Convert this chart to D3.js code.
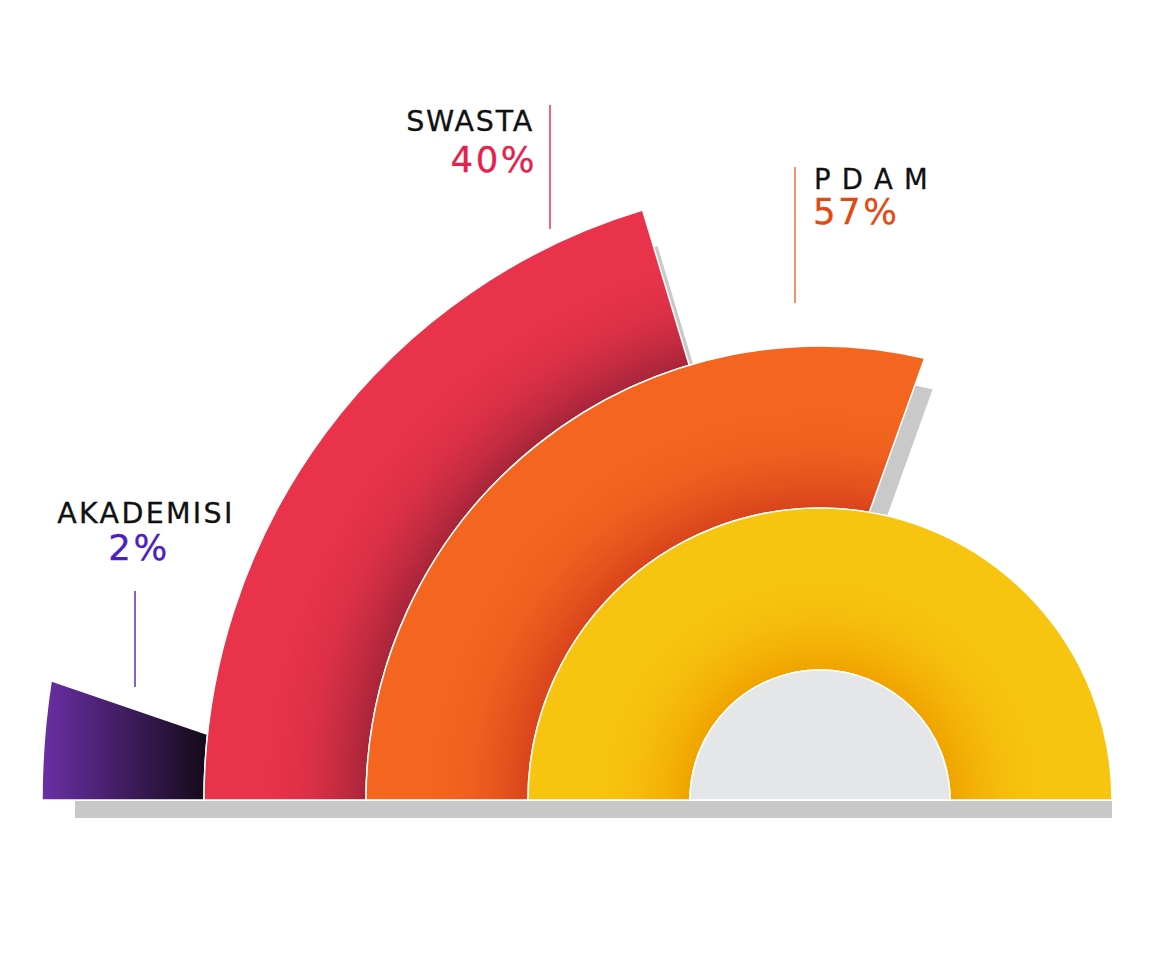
<!DOCTYPE html>
<html>
<head>
<meta charset="utf-8">
<script src="https://cdn.jsdelivr.net/npm/d3@7"></script>
<style>
  html, body { margin: 0; padding: 0; background: #fff; }
  svg { display: block; }
</style>
</head>
<body>
<svg id="chart" width="1150" height="967"></svg>
<script>
// ---- data (outermost ring first) ----
const categories = ["AKADEMISI", "SWASTA", "P D A M", ""];
const values = [2, 40, 57, null];                 // printed percentages
const sweepOuter = [4.9, 40.7, 57.4, 100];        // arc extent at outer edge, % of half circle
const sweepInner = [3.4, 40.7, 55.4, 100];        // arc extent at inner edge, % of half circle
const colors = ["#6b2fa6", "#e8334a", "#f4661f", "#f7c50f"];
const darkColors = ["#160b1c", "#a8253a", "#d9441c", "#f0a300"];
const valueColors = ["#4a20c0", "#e5214d", "#e04a12", null];
const lineColors = ["#5b2cb0", "#e8334a", "#f26a3a", null];

const svg = d3.select("#chart");
const cx = 820, cy = 800;

const rScale = d3.scaleLinear().domain([0, categories.length]).range([778, 130]);
const angle = d3.scaleLinear().domain([0, 100]).range([Math.PI, 2 * Math.PI]);

function ringPath(ro, ri, so, si) {
  const p = d3.path();
  p.moveTo(cx - ro, cy);
  p.arc(cx, cy, ro, Math.PI, angle(so), false);
  p.lineTo(cx + ri * Math.cos(angle(si)), cy + ri * Math.sin(angle(si)));
  p.arc(cx, cy, ri, angle(si), Math.PI, true);
  p.closePath();
  return p.toString();
}

const defs = svg.append("defs");
defs.append("clipPath").attr("id", "above")
  .append("rect").attr("x", 0).attr("y", 0).attr("width", 1150).attr("height", cy);

categories.forEach((c, i) => {
  const ro = rScale(i), ri = rScale(i + 1);
  if (i === 0) {
    const g = defs.append("linearGradient").attr("id", "grad" + i)
      .attr("gradientUnits", "userSpaceOnUse")
      .attr("x1", cx - ro).attr("y1", 0).attr("x2", cx - ri).attr("y2", 0);
    g.append("stop").attr("offset", 0).attr("stop-color", colors[i]);
    g.append("stop").attr("offset", 1).attr("stop-color", darkColors[i]);
  } else {
    const f = ri / ro, w = 1 - f;
    const g = defs.append("radialGradient").attr("id", "grad" + i)
      .attr("gradientUnits", "userSpaceOnUse")
      .attr("cx", cx).attr("cy", cy).attr("r", ro);
    const mid = d3.interpolateRgb(darkColors[i], colors[i]);
    g.append("stop").attr("offset", f).attr("stop-color", darkColors[i]);
    g.append("stop").attr("offset", f + 0.15 * w).attr("stop-color", mid(0.4));
    g.append("stop").attr("offset", f + 0.35 * w).attr("stop-color", mid(0.8));
    g.append("stop").attr("offset", f + 0.6 * w).attr("stop-color", colors[i]);
    g.append("stop").attr("offset", 1).attr("stop-color", colors[i]);
  }
});

// bottom shadow strip
svg.append("rect")
  .attr("x", 75).attr("y", cy + 1).attr("width", 1112 - 75).attr("height", 17)
  .attr("fill", "#c8c8c8");

// end-cut shadows
const shadowOffsets = [null, [15, 36], [8, 31], null];
const shadowG = svg.append("g").attr("clip-path", "url(#above)");
categories.forEach((c, i) => {
  if (!shadowOffsets[i]) return;
  shadowG.append("path")
    .attr("d", ringPath(rScale(i), rScale(i + 1), sweepOuter[i], sweepInner[i]))
    .attr("transform", `translate(${shadowOffsets[i][0]},${shadowOffsets[i][1]})`)
    .attr("fill", "#c9c9c9");
});

// rings
svg.append("g").selectAll("path")
  .data(categories)
  .join("path")
  .attr("d", (c, i) => ringPath(rScale(i), rScale(i + 1), sweepOuter[i], sweepInner[i]))
  .attr("fill", (c, i) => `url(#grad${i})`)
  .attr("stroke", "#fff")
  .attr("stroke-width", 1.5)
  .attr("stroke-linejoin", "miter");

// center disc
svg.append("path")
  .attr("d", d3.arc()({ innerRadius: 0, outerRadius: rScale(categories.length), startAngle: -Math.PI / 2, endAngle: Math.PI / 2 }))
  .attr("transform", `translate(${cx},${cy})`)
  .attr("fill", "#e5e6e8")
  .attr("stroke", "#fff")
  .attr("stroke-width", 1.5);

// labels
const labelPos = [
  { nx: 146, ny: 523, vx: 139, vy: 560, anchor: "middle", lx: 135, ly1: 591, ly2: 687, ls: 2.3, nfs: 28.5 },
  { nx: 534, ny: 131, vx: 537, vy: 172, anchor: "end", lx: 550, ly1: 105, ly2: 229, ls: 1.8, nfs: 28.5 },
  { nx: 814, ny: 189, vx: 813, vy: 224, anchor: "start", lx: 795, ly1: 167, ly2: 303, ls: 1.2, nfs: 27.5 }
];
const lab = svg.append("g").attr("font-family", "'DejaVu Sans', Verdana, sans-serif");
labelPos.forEach((p, i) => {
  lab.append("line")
    .attr("x1", p.lx).attr("x2", p.lx).attr("y1", p.ly1).attr("y2", p.ly2)
    .attr("stroke", lineColors[i]).attr("stroke-width", 1.5);
  lab.append("text")
    .attr("x", p.nx).attr("y", p.ny)
    .attr("text-anchor", p.anchor)
    .attr("font-size", p.nfs)
    .attr("letter-spacing", p.ls)
    .attr("fill", "#111")
    .attr("stroke", "#111").attr("stroke-width", 0.3)
    .text(categories[i]);
  lab.append("text")
    .attr("x", p.vx).attr("y", p.vy)
    .attr("text-anchor", p.anchor)
    .attr("font-size", 35.5)
    .attr("letter-spacing", 2.5)
    .attr("fill", valueColors[i])
    .attr("stroke", valueColors[i]).attr("stroke-width", 0.3)
    .text(values[i] + "%");
});
</script>
</body>
</html>
